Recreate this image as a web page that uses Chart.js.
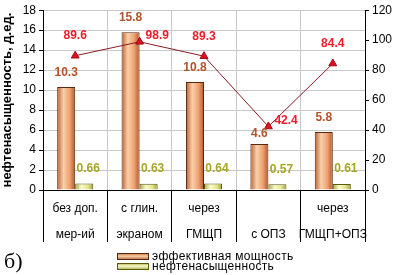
<!DOCTYPE html>
<html>
<head>
<meta charset="utf-8">
<script src="https://cdn.jsdelivr.net/npm/chart.js@4.4.1/dist/chart.umd.min.js"></script>
<style>
  html, body { margin: 0; padding: 0; background: #fff; }
  #wrap { width: 393px; height: 275px; position: relative; }
</style>
</head>
<body>
<div id="wrap"><canvas id="myChart" width="393" height="275"></canvas></div>
<script>
// data
const categories = [
  ["без доп.", "мер-ий"],
  ["с глин.", "экраном"],
  ["через", "ГМЩП"],
  ["", "с ОПЗ"],
  ["через", "ГМЩП+ОПЗ"],
];
const thickness = [10.3, 15.8, 10.8, 4.6, 5.8];       // эффективная мощность
const saturation = [0.66, 0.63, 0.64, 0.57, 0.61];    // нефтенасыщенность
const lineValues = [89.6, 98.9, 89.3, 42.4, 84.4];    // right axis
const lineLabelSide = ["top", "right", "top", "right", "top"];

const leftTicks = { min: 0, max: 18, step: 2 };
const rightTicks = { min: 0, max: 120, step: 20 };

const FONT = "Arial, 'Liberation Sans', sans-serif";
const catPct = 0.56;

// horizontal gradient, so the bars look a bit like cylinders
function barFill(stops, side) {
  return function (ctx) {
    const chart = ctx.chart;
    const xs = chart.scales.x;
    if (!xs || ctx.dataIndex === undefined) return stops[1];
    const c = xs.getPixelForValue(ctx.dataIndex);
    const w = (xs.width / categories.length) * catPct / 2;
    if (!isFinite(c) || !isFinite(w) || w <= 0) return stops[1];
    const x0 = side < 0 ? c - w : c;
    const g = chart.ctx.createLinearGradient(x0, 0, x0 + w, 0);
    g.addColorStop(0, stops[0]);
    g.addColorStop(0.35, stops[1]);
    g.addColorStop(0.7, stops[2]);
    g.addColorStop(1, stops[3]);
    return g;
  };
}
const orangeStops = ["#b8602e", "#fad0aa", "#eea070", "#b0582a"];
const yellowStops = ["#a8a84a", "#fafac8", "#e6e690", "#a0a040"];

// value labels + legend + "б)"
const labelsPlugin = {
  id: "labelsPlugin",
  afterDatasetsDraw(chart) {
    const c = chart.ctx;
    c.save();
    c.font = "bold 12px " + FONT;
    c.textBaseline = "middle";

    c.fillStyle = "#b0532a";
    c.textAlign = "center";
    chart.getDatasetMeta(1).data.forEach((bar, i) => {
      // the short bar's label sits lower, under the line label
      const off = thickness[i] < 5 ? 10 : 14;
      c.fillText(thickness[i].toFixed(1), bar.x, bar.y - off);
    });

    c.fillStyle = "#a6a624";
    chart.getDatasetMeta(2).data.forEach((bar, i) => {
      c.fillText(saturation[i].toFixed(2), bar.x + 4, bar.y - 15);
    });

    c.fillStyle = "#ee1c2a";
    chart.getDatasetMeta(0).data.forEach((pt, i) => {
      if (lineLabelSide[i] === "right") {
        c.textAlign = "left";
        c.fillText(lineValues[i].toFixed(1), pt.x + 6, pt.y - 6);
      } else {
        c.textAlign = "center";
        c.fillText(lineValues[i].toFixed(1), pt.x, pt.y - 20);
      }
    });
    c.restore();
  },
  afterDraw(chart) {
    const c = chart.ctx;
    c.save();
    const items = [
      { text: "эффективная мощность", stops: orangeStops, border: "#5a2810", y: 253 },
      { text: "нефтенасыщенность", stops: yellowStops, border: "#5a5a10", y: 263 },
    ];
    items.forEach((it) => {
      const g = c.createLinearGradient(0, it.y, 0, it.y + 7);
      g.addColorStop(0, it.stops[0]);
      g.addColorStop(0.45, it.stops[1]);
      g.addColorStop(1, it.stops[3]);
      c.fillStyle = g;
      c.fillRect(117, it.y, 32, 7);
      c.strokeStyle = it.border;
      c.lineWidth = 1;
      c.strokeRect(117.5, it.y + 0.5, 31, 6);
      c.fillStyle = "#000";
      c.font = "12px " + FONT;
      c.letterSpacing = "0.3px";
      c.textAlign = "left";
      c.textBaseline = "middle";
      c.fillText(it.text, 152, it.y + 4);
    });
    c.letterSpacing = "0px";
    c.font = "22px 'Liberation Serif', 'Times New Roman', serif";
    c.textBaseline = "alphabetic";
    c.fillText("б)", 4, 268);
    c.restore();
  },
};

const ctx = document.getElementById("myChart");
const myChart = new Chart(ctx, {
  type: "bar",
  data: {
    labels: categories,
    datasets: [
      {
        type: "line",
        data: lineValues,
        yAxisID: "y1",
        order: 0,
        borderColor: "#8b1a22",
        borderWidth: 1,
        pointStyle: "triangle",
        pointRadius: 4.5,
        pointBackgroundColor: "#e0101e",
        pointBorderColor: "#a00818",
        pointBorderWidth: 1,
      },
      {
        label: "эффективная мощность",
        data: thickness,
        yAxisID: "y",
        order: 1,
        backgroundColor: barFill(orangeStops, -1),
        borderColor: "#5a2810",
        borderWidth: 1,
        categoryPercentage: catPct,
        barPercentage: 1,
      },
      {
        label: "нефтенасыщенность",
        data: saturation,
        yAxisID: "y",
        order: 1,
        backgroundColor: barFill(yellowStops, 1),
        borderColor: "#5a5a10",
        borderWidth: 1,
        categoryPercentage: catPct,
        barPercentage: 1,
      },
    ],
  },
  options: {
    responsive: false,
    animation: false,
    layout: { padding: { top: 5, left: 0, right: 0, bottom: 0 } },
    plugins: {
      legend: { display: false },
      tooltip: { enabled: false },
    },
    scales: {
      x: {
        offset: true,
        grid: {
          offset: true,
          color: "#c8c8c8",
          tickColor: "#000",
          tickLength: 52,
        },
        border: { color: "#000" },
        ticks: {
          color: "#000",
          font: { family: FONT, size: 12, lineHeight: "26px" },
          padding: -46,
          maxRotation: 0,
          autoSkip: false,
        },
        afterFit(scale) { scale.height = 85; },
      },
      y: {
        position: "left",
        min: leftTicks.min,
        max: leftTicks.max,
        ticks: {
          stepSize: leftTicks.step,
          color: "#000",
          font: { family: FONT, size: 12 },
          padding: 3,
        },
        grid: { color: "#c8c8c8", tickColor: "#000", tickLength: 4 },
        border: { color: "#000" },
        title: {
          display: true,
          text: "нефтенасыщенность, д.ед.",
          color: "#000",
          font: { family: FONT, size: 13, weight: "bold" },
          padding: 0,
        },
        afterFit(scale) { scale.width = 43; },
      },
      y1: {
        position: "right",
        min: rightTicks.min,
        max: rightTicks.max,
        ticks: {
          stepSize: rightTicks.step,
          color: "#000",
          font: { family: FONT, size: 12 },
          padding: 3,
        },
        grid: { drawOnChartArea: false, tickColor: "#000", tickLength: 4 },
        border: { color: "#000" },
        afterFit(scale) { scale.width = 28; },
      },
    },
  },
  plugins: [labelsPlugin],
});
</script>
</body>
</html>
